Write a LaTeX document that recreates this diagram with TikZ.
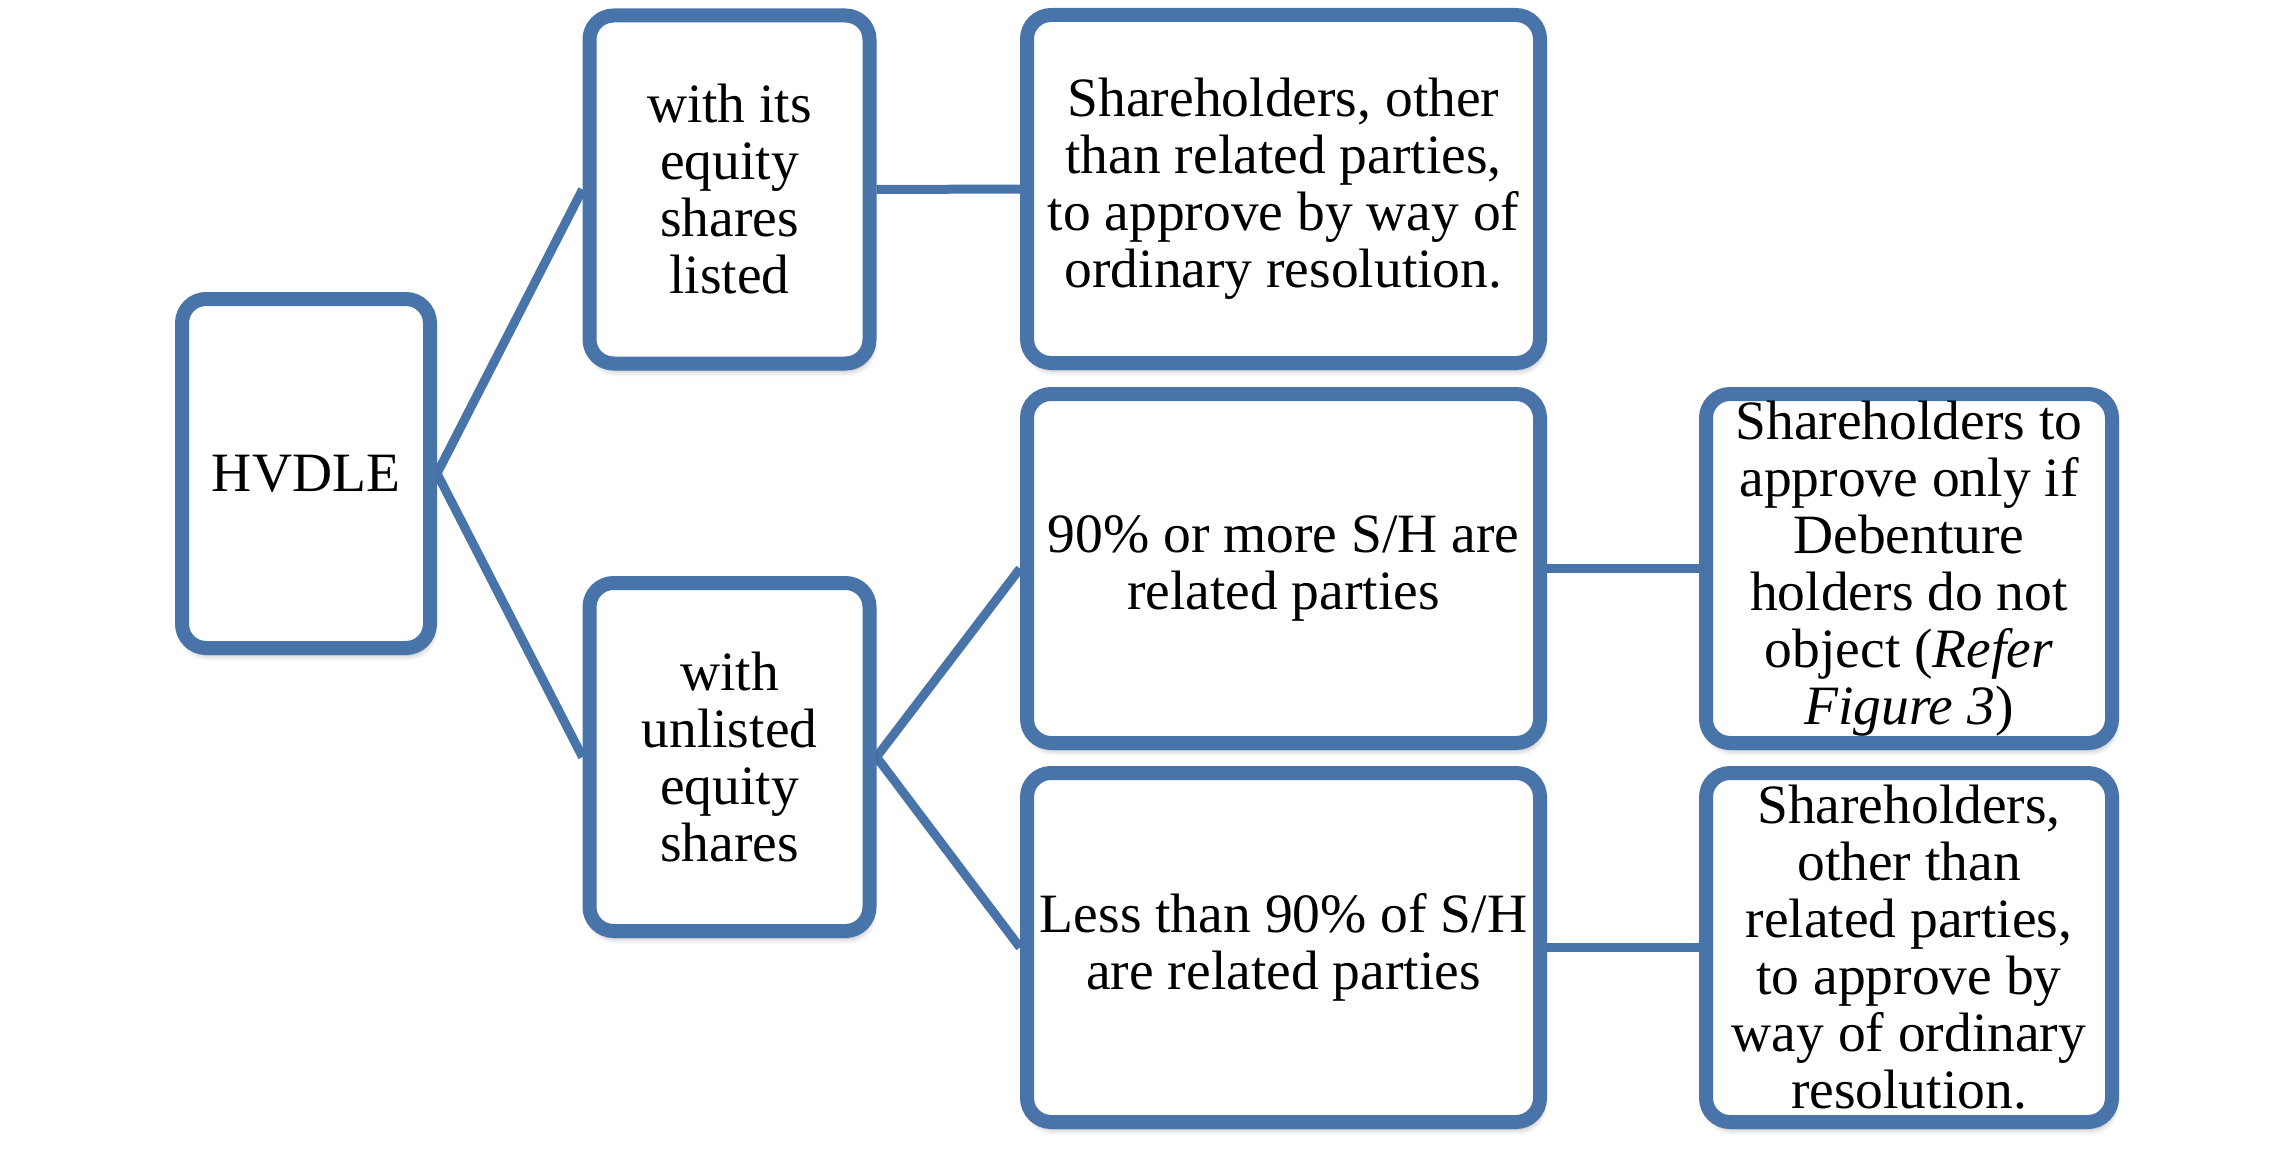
\documentclass[tikz,border=0pt]{standalone}
\usepackage{fontspec}
\setmainfont{Liberation Serif}
\usetikzlibrary{backgrounds,shadows.blur}
\definecolor{boxblue}{RGB}{72,116,170}
\tikzset{
  box/.style={draw=boxblue, line width=14pt, fill=white, rounded corners=24pt,
    align=center, inner sep=0pt,
    font=\fontsize{55.5}{57}\selectfont,
    blur shadow={shadow xshift=2pt, shadow yshift=-7pt, shadow blur radius=6pt, shadow opacity=35}},
  link/.style={draw=boxblue, line width=9pt}
}
\begin{document}
\begin{tikzpicture}[x=1pt,y=-1pt]
\useasboundingbox (0,0) rectangle (2276,1172);
\node[box, minimum width=248pt, minimum height=349pt] (A) at (306,473.5) {HVDLE};
\node[box, minimum width=280pt, minimum height=348pt] (B) at (729.5,189.5) {with its\\equity\\shares\\listed};
\node[box, minimum width=280pt, minimum height=348pt] (C) at (729.5,757) {with\\unlisted\\equity\\shares};
\node[box, minimum width=513pt, minimum height=348pt] (D) at (1283.5,189) {Shareholders, other\\than related parties,\\to approve by way of\\ordinary resolution.};
\node[box, minimum width=513pt, minimum height=349pt] (E) at (1283.5,568.5) {90\% or more S/H are\\related parties};
\node[box, minimum width=513pt, minimum height=349pt] (F) at (1283.5,947.5) {Less than 90\% of S/H\\are related parties};
\node[box, minimum width=406pt, minimum height=349pt] (G) at (1909,568.5) {Shareholders to\\approve only if\\Debenture\\holders do not\\object (\textit{Refer}\\\textit{Figure 3})};
\node[box, minimum width=406pt, minimum height=349pt] (H) at (1909,947.5) {Shareholders,\\other than\\related parties,\\to approve by\\way of ordinary\\resolution.};
\begin{pgfonlayer}{background}
\draw[link] (A.east) -- (B.west);
\draw[link] (A.east) -- (C.west);
\draw[link] (B.east) -- (D.west);
\draw[link] (C.east) -- (E.west);
\draw[link] (C.east) -- (F.west);
\draw[link] (E.east) -- (G.west);
\draw[link] (F.east) -- (H.west);
\end{pgfonlayer}
\end{tikzpicture}
\end{document}
